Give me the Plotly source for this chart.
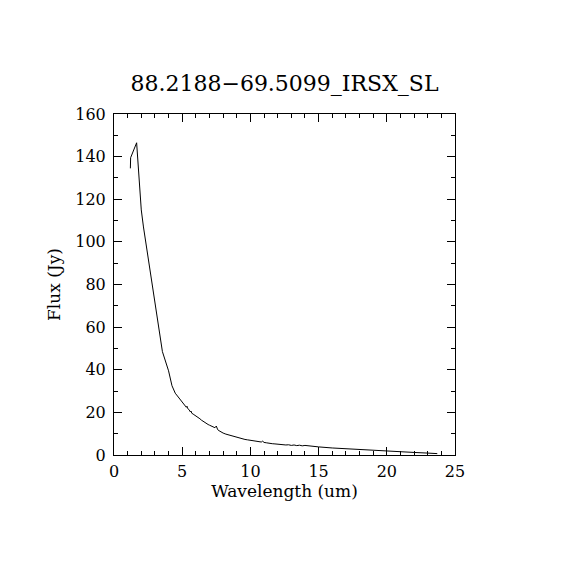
import plotly.graph_objects as go

# photometry points + IRS spectrum
wavelength = [1.20, 1.22, 1.66, 2.00, 2.16, 3.55, 4.00, 4.25, 4.49,
              5.20, 5.30, 5.35, 5.40, 5.50, 5.60, 5.65, 5.70, 5.80, 5.90,
              6.00, 6.10, 6.20, 6.30, 6.40, 6.50, 6.60, 6.70, 6.80, 6.90,
              7.00, 7.10, 7.20, 7.30, 7.40, 7.50, 7.55, 7.60, 7.70, 7.80,
              8.00, 8.20, 8.40, 8.60, 8.80, 9.00, 9.20, 9.40, 9.60, 9.80,
              10.00, 10.20, 10.40, 10.60, 10.80, 10.90, 11.00, 11.20, 11.40,
              11.60, 11.80, 12.00, 12.20, 12.40, 12.60, 12.80, 13.00, 13.20,
              13.40, 13.60, 13.80, 14.00, 14.20, 14.50,
              15.0, 16.0, 17.0, 18.0, 19.0, 20.0, 21.0, 22.0, 23.0, 23.7]
flux = [134.5, 139.5, 146.5, 115.0, 107.0, 48.5, 39.5, 32.5, 29.0,
        23.5, 22.4, 22.9, 21.8, 21.3, 20.2, 20.6, 19.6, 19.2, 18.8,
        18.3, 18.0, 17.4, 17.0, 16.4, 15.9, 15.5, 15.0, 14.8, 14.3,
        14.0, 13.7, 13.3, 13.1, 12.8, 13.6, 12.4, 11.9, 11.4, 10.9,
        10.3, 9.8, 9.4, 9.0, 8.6, 8.3, 8.0, 7.7, 7.3, 7.1,
        6.9, 6.8, 6.5, 6.3, 6.1, 6.5, 5.9, 5.7, 5.4,
        5.3, 5.2, 5.0, 5.1, 4.8, 4.7, 4.8, 4.5, 4.7,
        4.4, 4.6, 4.3, 4.5, 4.3, 4.2,
        3.8, 3.3, 2.9, 2.6, 2.3, 1.9, 1.5, 1.2, 0.9, 0.65]

title = "88.2188\u221269.5099_IRSX_SL"
font = "DejaVu Serif"

fig = go.Figure()
fig.add_trace(go.Scatter(x=wavelength, y=flux, mode="lines",
                         line=dict(color="black", width=1), showlegend=False))

axis_style = dict(showline=True, linecolor="black", linewidth=1, mirror="ticks",
                  ticks="inside", ticklen=8, tickwidth=1, tickcolor="black",
                  showgrid=False, zeroline=False,
                  tickfont=dict(family=font, size=16, color="black"))

fig.update_xaxes(range=[0, 25], dtick=5, title_text="Wavelength (um)",
                 title_font=dict(family=font, size=17, color="black"), title_standoff=4,
                 ticklabelstandoff=2,
                 minor=dict(dtick=1, ticks="inside", ticklen=4, tickcolor="black"),
                 **axis_style)
fig.update_yaxes(range=[0, 160], dtick=20, title_text="Flux (Jy)",
                 title_font=dict(family=font, size=17, color="black"), title_standoff=10,
                 ticklabelstandoff=4,
                 minor=dict(dtick=10, ticks="inside", ticklen=4, tickcolor="black"),
                 **axis_style)

fig.update_layout(
    width=570, height=570,
    margin=dict(l=106, r=123, t=106, b=123),
    paper_bgcolor="white", plot_bgcolor="white",
    title=dict(text=title, x=(106 + 447) / 2 / 570, xanchor="center",
               y=1 - 75 / 570, yanchor="middle",
               font=dict(family=font, size=22, color="black")),
)

fig.write_html("out.html")
